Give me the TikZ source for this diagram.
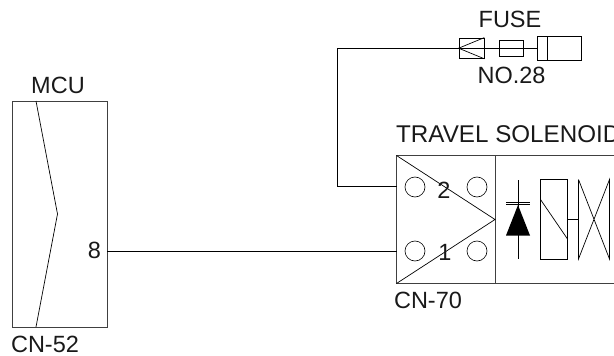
\documentclass[tikz,border=0pt]{standalone}
\usepackage{fontspec}
\setmainfont{Liberation Sans}
\begin{document}
\begin{tikzpicture}[x=1pt,y=-1pt,
  lbl/.style={inner sep=0pt,font=\fontsize{23.5}{25}\selectfont,text=black!90},
  wire/.style={draw=black,line width=0.75pt},
  frame/.style={draw=black!75,line width=1pt},
  thin line/.style={draw=black,line width=0.7pt}]
\useasboundingbox (0,0) rectangle (614,356);
\begin{scope}
\clip (0,0) rectangle (614,356);
% MCU
\draw[frame] (12,101) rectangle (107,327);
\draw[thin line] (36,101) -- (57.5,214) -- (36,327);
\node[lbl] (mcu) at (58,85) {MCU};
\node[lbl] (cn52) at (45,344) {CN-52};
\node[lbl] (pin8) at (94.5,250) {8};
\coordinate (mcuout) at (107,251);
% Connector CN-70
\draw[frame] (614,155.5) -- (396.5,155.5) -- (396.5,283.5) -- (614,283.5);
\draw[frame] (495,155.5) -- (495,283.5);
\draw[thin line] (396.5,155.5) -- (495,219.5) -- (396.5,283.5);
\foreach \n/\x/\y in {a/415/187,b/477/187,c/415/251,d/477/251}
  \node[circle,draw=black,line width=0.6pt,minimum size=20pt,inner sep=0pt] (\n) at (\x,\y) {};
\node[lbl] (pin2) at (444,190.5) {2};
\node[lbl] (pin1) at (445,252.5) {1};
\node[lbl,anchor=west,font=\fontsize{24.2}{25}\selectfont] (title) at (396,134.5) {TRAVEL SOLENOID};
\node[lbl] (cn70) at (428,300.5) {CN-70};
\coordinate (in1) at (396.5,251);
\coordinate (in2) at (396.5,186);
% Diode
\draw[thin line] (518,180) -- (518,259);
\draw[thin line] (506,202) -- (530,202);
\draw[thin line] (506,204.5) -- (530,204.5);
\fill[black] (518,205) -- (530,235.5) -- (506,235.5) -- cycle;
% Coil
\draw[thin line] (540.5,179.5) rectangle (567.5,259);
\draw[thin line] (540.5,199.5) -- (567.5,239);
\draw[thin line] (567.5,219.5) -- (578.5,219.5);
\draw[thin line] (578.5,179.5) -- (578.5,259) -- (609.5,179.5) -- (609.5,259) -- (578.5,179.5);
% Fuse
\node[lbl] (fuse) at (510,19) {FUSE};
\node[lbl] (no28) at (511.5,75) {NO.28};
\node[draw=black,line width=0.7pt,minimum width=25pt,minimum height=20.5pt,inner sep=0pt] (plug) at (471.5,48.2) {};
\draw[thin line] (plug.north east) -- (plug.west) -- (plug.south east);
\node[draw=black,line width=0.7pt,minimum width=24pt,minimum height=15.5pt,inner sep=0pt] (fbox) at (511,48.2) {};
\node[draw=black,line width=0.7pt,minimum width=44pt,minimum height=24.5pt,inner sep=0pt] (holder) at (559,48.2) {};
\draw[thin line] (547,36) -- (547,60.5);
% Wires
\draw[wire] (mcuout) -- (in1);
\draw[wire] (in2) -- (337,186) -- (337,48.2) -- (plug.west);
\draw[wire] (plug.west) -- (holder.west);
\end{scope}
\end{tikzpicture}
\end{document}
